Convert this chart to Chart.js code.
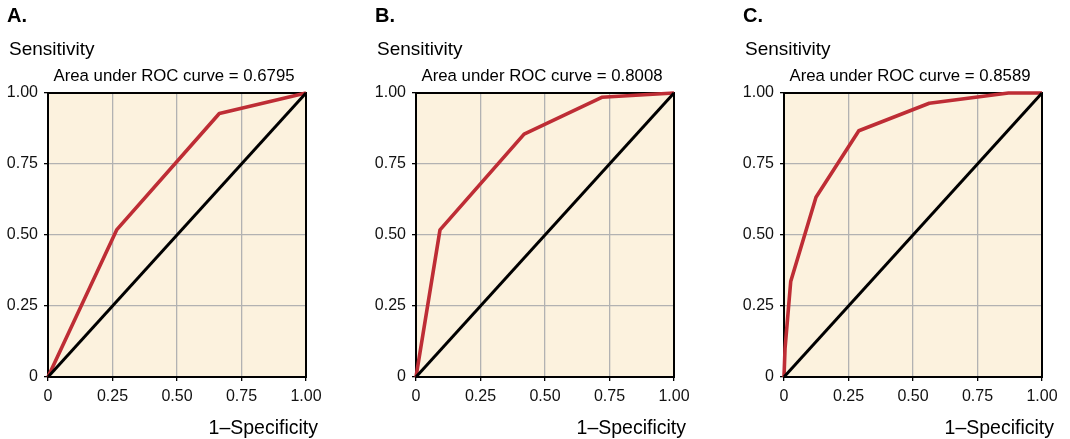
<!DOCTYPE html>
<html>
<head>
<meta charset="utf-8">
<script src="https://cdn.jsdelivr.net/npm/chart.js@4"></script>
<style>
    html, body { margin: 0; padding: 0; background: #fff; }
    body { width: 1070px; height: 439px; overflow: hidden; position: relative; }
    canvas { position: absolute; top: 0; }
</style>
</head>
<body>
<canvas id="rocA" width="368" height="439" style="left:0px"></canvas>
<canvas id="rocB" width="368" height="439" style="left:368px"></canvas>
<canvas id="rocC" width="368" height="439" style="left:736px"></canvas>
<script>
// Data
const tickValues = [0, 0.25, 0.5, 0.75, 1];
const tickLabels = ['0', '0.25', '0.50', '0.75', '1.00'];
const panelLabels = ['A.', 'B.', 'C.'];
const aucValues = ['0.6795', '0.8008', '0.8589'];

const rocA_x = [0, 0.266, 0.664, 1];
const rocA_y = [0, 0.518, 0.928, 1];
const rocB_x = [0, 0.093, 0.419, 0.72, 1];
const rocB_y = [0, 0.518, 0.855, 0.985, 1];
const rocC_x = [0, 0.004, 0.026, 0.124, 0.29, 0.563, 0.87, 1];
const rocC_y = [0, 0.1, 0.336, 0.633, 0.867, 0.964, 1, 1];
const chance_x = [0, 1];
const chance_y = [0, 1];

const FONT = '"Liberation Sans", Arial, Helvetica, sans-serif';

function toPoints(xs, ys) {
    return xs.map((x, i) => ({ x: x, y: ys[i] }));
}

// background, frame and texts
const panelDeco = {
    id: 'panelDeco',
    beforeDraw(chart) {
        const a = chart.chartArea;
        const ctx = chart.ctx;
        ctx.save();
        ctx.fillStyle = '#fcf2de';
        ctx.fillRect(a.left, a.top, a.right - a.left, a.bottom - a.top);
        ctx.restore();
    },
    beforeDatasetsDraw(chart) {
        const a = chart.chartArea;
        const ctx = chart.ctx;
        ctx.save();
        ctx.strokeStyle = '#000';
        ctx.lineWidth = 2;
        ctx.strokeRect(a.left, a.top, a.right - a.left, a.bottom - a.top);
        ctx.restore();
    },
    afterDraw(chart, args, opts) {
        const a = chart.chartArea;
        const ctx = chart.ctx;
        ctx.save();
        ctx.fillStyle = '#000';
        ctx.textBaseline = 'alphabetic';
        ctx.textAlign = 'left';
        ctx.font = 'bold 20px ' + FONT;
        ctx.fillText(opts.letter, 7, 22);
        ctx.font = '19px ' + FONT;
        ctx.fillText('Sensitivity', 9, 55);
        ctx.textAlign = 'center';
        ctx.font = '16.8px ' + FONT;
        ctx.fillText('Area under ROC curve = ' + opts.auc, (a.left + a.right) / 2 - 3, 81);
        ctx.textAlign = 'right';
        ctx.font = '19.5px ' + FONT;
        ctx.fillText('1\u2013Specificity', a.right + 12, 434);
        ctx.restore();
    }
};

function makeAxis() {
    return {
        type: 'linear',
        min: 0,
        max: 1,
        afterBuildTicks: axis => { axis.ticks = tickValues.map(v => ({ value: v })); },
        ticks: {
            color: '#111',
            font: { family: FONT, size: 16 },
            padding: 6,
            autoSkip: false,
            maxRotation: 0,
            callback: (v) => tickLabels[tickValues.indexOf(v)]
        },
        grid: {
            color: '#b2b2b2',
            lineWidth: 1.3,
            tickColor: '#000',
            tickLength: 4
        },
        border: { display: false }
    };
}

function drawPanel(id, idx, xs, ys) {
    const xAxis = makeAxis();
    xAxis.afterFit = s => { s.height = 62; };
    const yAxis = makeAxis();
    yAxis.afterFit = s => { s.width = 48; };

    new Chart(document.getElementById(id), {
        type: 'scatter',
        data: {
            datasets: [
                {
                    data: toPoints(chance_x, chance_y),
                    showLine: true,
                    borderColor: '#000',
                    borderWidth: 3,
                    pointRadius: 0,
                    clip: false
                },
                {
                    data: toPoints(xs, ys),
                    showLine: true,
                    borderColor: '#be2d35',
                    borderWidth: 3.6,
                    pointRadius: 0,
                    borderJoinStyle: 'round',
                    clip: false
                }
            ]
        },
        options: {
            responsive: false,
            animation: false,
            devicePixelRatio: 1,
            layout: { padding: { top: 93, right: 62, left: 0, bottom: 0 } },
            scales: { x: xAxis, y: yAxis },
            plugins: {
                legend: { display: false },
                tooltip: { enabled: false },
                panelDeco: { letter: panelLabels[idx], auc: aucValues[idx] }
            }
        },
        plugins: [panelDeco]
    });
}

drawPanel('rocA', 0, rocA_x, rocA_y);
drawPanel('rocB', 1, rocB_x, rocB_y);
drawPanel('rocC', 2, rocC_x, rocC_y);
</script>
</body>
</html>
